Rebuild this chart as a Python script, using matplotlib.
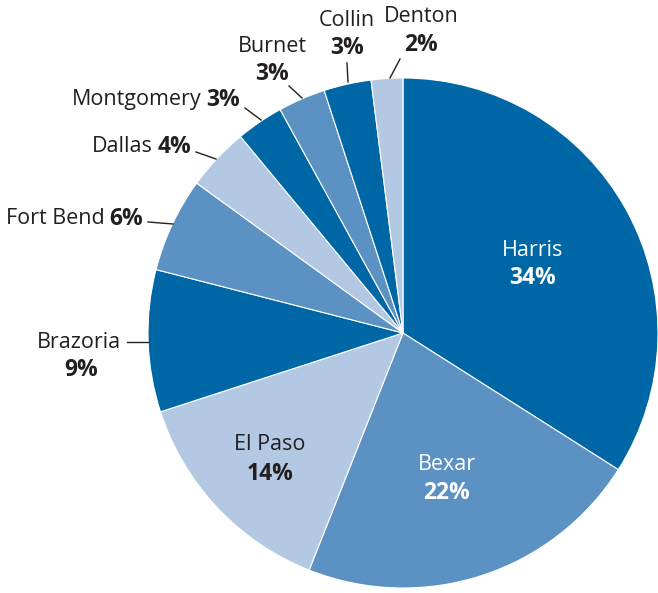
import matplotlib.pyplot as plt

counties = ["Harris", "Bexar", "El Paso", "Brazoria", "Fort Bend",
            "Dallas", "Montgomery", "Burnet", "Collin", "Denton"]
shares = [34, 22, 14, 9, 6, 4, 3, 3, 3, 2]

dark = "#0067a6"
mid = "#5b91c3"
light = "#b3c8e2"
colors = [dark, mid, light, dark, mid, light, dark, mid, dark, light]

plt.rcParams['font.family'] = ['Open Sans', 'DejaVu Sans']
txt = "#231f20"

W, H = 658, 593
fig = plt.figure(figsize=(W / 100, H / 100), dpi=100)
ax = fig.add_axes([0, 0, 1, 1])

cx, cy, r = 403, H - 333, 255
ax.pie(shares, colors=colors, startangle=90, counterclock=False,
       center=(cx, cy), radius=r, frame=True,
       wedgeprops=dict(edgecolor='white', linewidth=0.8))
ax.set_xlim(0, W)
ax.set_ylim(0, H)
ax.set_aspect('equal')
ax.axis('off')

def py(y):
    return H - y

fs = 15.5
fp = 16.5
# labels inside the slices
inside = {"Harris": (533, 250, 278, 'white'),
          "Bexar": (447, 465, 493, 'white'),
          "El Paso": (270, 445, 474, txt)}
for i, name in enumerate(counties[:3]):
    x, y1, y2, c = inside[name]
    ax.text(x, py(y1), name, ha='center', va='center', fontsize=fs, color=c)
    ax.text(x, py(y2), f"{shares[i]}%", ha='center', va='center',
            fontsize=fp, color=c, fontweight='bold')

# Brazoria
ax.text(121, py(342), "Brazoria", ha='right', va='center', fontsize=fs, color=txt)
ax.text(81, py(370), f"{shares[3]}%", ha='center', va='center', fontsize=fp,
        color=txt, fontweight='bold')
ax.plot([127, 148], [py(342), py(342)], color=txt, lw=1)

# one-line labels: name then bold pct
renderer = fig.canvas.get_renderer()
one_line = [("Fort Bend", 4, 143, 219, [(148, 222), (173, 224)]),
            ("Dallas", 5, 191, 147, [(196, 152), (216, 159)]),
            ("Montgomery", 6, 240, 100, [(245, 108), (261, 120)])]
for name, i, x, y, seg in one_line:
    t = ax.text(x, py(y), f"{shares[i]}%", ha='right', va='center',
                fontsize=fp, color=txt, fontweight='bold')
    w = t.get_window_extent(renderer).width
    ax.text(x - w - 5, py(y), name, ha='right', va='center', fontsize=fs, color=txt)
    ax.plot([p[0] for p in seg], [py(p[1]) for p in seg], color=txt, lw=1)

two_line = [("Burnet", 7, 272, 46, 74, [(289, 86), (302, 98)]),
            ("Collin", 8, 347, 20, 48, [(347, 63), (348, 82)]),
            ("Denton", 9, 421, 17, 45, [(400, 59), (390, 78)])]
for name, i, x, y1, y2, seg in two_line:
    ax.text(x, py(y1), name, ha='center', va='center', fontsize=fs, color=txt)
    ax.text(x, py(y2), f"{shares[i]}%", ha='center', va='center', fontsize=fp,
            color=txt, fontweight='bold')
    ax.plot([p[0] for p in seg], [py(p[1]) for p in seg], color=txt, lw=1)

fig.savefig("out.png", dpi=100)
